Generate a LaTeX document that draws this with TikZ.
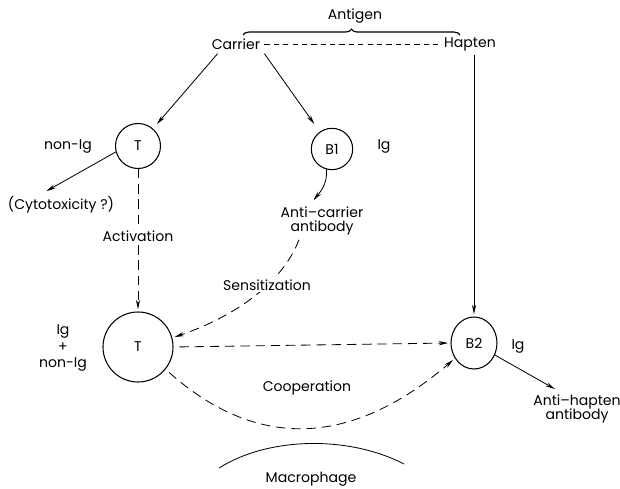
\documentclass[tikz,border=0pt]{standalone}
\usepackage{fontspec}
\setmainfont{Poppins}
\usetikzlibrary{arrows.meta,decorations.pathreplacing,shapes.geometric}

\tikzset{
  cell/.style={draw, circle, inner sep=0pt, line width=0.9pt},
  arr/.style={-{Stealth[length=8pt,width=3.6pt]}, shorten >=2pt},
  longdash/.style={dash pattern=on 8pt off 5pt},
  shortdash/.style={dash pattern=on 4.5pt off 3.5pt},
}

\begin{document}
\begin{tikzpicture}[text centered, x=0.03cm, y=-0.03cm]
    \useasboundingbox (0,0) rectangle (620,489);
    \begin{scope}[line width=0.7pt, font=\fontsize{12}{12.5}\selectfont]

    \node (antigen) at (355,16) {Antigen};
    \node (carrier) at (236,44) {Carrier};
    \node (hapten) at (470,44) {Hapten};

    \node [cell, minimum size=1.35cm] (T1) at (138,146) {T};
    \node [cell, minimum size=1.24cm] (B1) at (332,149) {B1};
    \node (nonig) at (68,147) {non-Ig};
    \node (igone) at (384,147) {Ig};

    \node (cyto) at (61,205) {(Cytotoxicity ?)};
    \node [align=center] (anticarrier) at (322,221) {Anti–carrier\\antibody};

    \node [cell, minimum size=2.1cm] (T2) at (138,347) {T};
    \node [align=center, font=\fontsize{12}{14.5}\selectfont] (igplus) at (63,348) {Ig\\+\\non-Ig};
    \node [cell, ellipse, minimum width=1.38cm, minimum height=1.56cm] (B2) at (474,343) {B2};
    \node (igtwo) at (518,346) {Ig};
    \node [align=center] (antihapten) at (577,409) {Anti–hapten\\antibody};

    \node (coop) at (307,388) {Cooperation};
    \node (macro) at (311,479) {Macrophage};

    % antigen brace and links
    \draw [decorate, decoration={brace, amplitude=5pt}, line width=1pt] (243,35) -- (460,35);
    \draw [shortdash] (carrier.east) -- (hapten.west);

    \draw [arr, shorten >=5pt] ([xshift=0.3cm]carrier.south west) -- (T1);
    \draw [arr, shorten >=8pt] (carrier.south east) -- (B1);
    \draw [arr] (B2 |- hapten.south) -- (B2);

    \draw [arr] (T1.195) -- ([xshift=-0.5cm]cyto.north);
    \draw [arr, longdash] (T1) -- node [pos=0.47, fill=white, inner sep=1pt] (activ) {Activation} (T2);
    \draw [arr] (B1.255) .. controls +(1,15) and +(8,-10) .. ([xshift=-0.3cm]anticarrier.north);
    \draw [arr, longdash] ([xshift=-0.69cm]anticarrier.south) .. controls +(-19,49) and +(53,-18) .. (T2.15);
    \node [fill=white, inner sep=1pt] (sens) at (267,285) {Sensitization};

    \draw [arr, longdash, shorten <=5pt] (T2.east) -- (B2.west);
    \draw [arr, longdash, shorten <=4pt] (T2.321) .. controls +(90,80) and +(-105,90) .. (B2.219);
    \draw [arr] (B2.330) -- ([xshift=-0.6cm]antihapten.north);

    \draw (219,468) .. controls (270,436) and (350,436) .. (404,464);

    \end{scope}
\end{tikzpicture}
\end{document}
